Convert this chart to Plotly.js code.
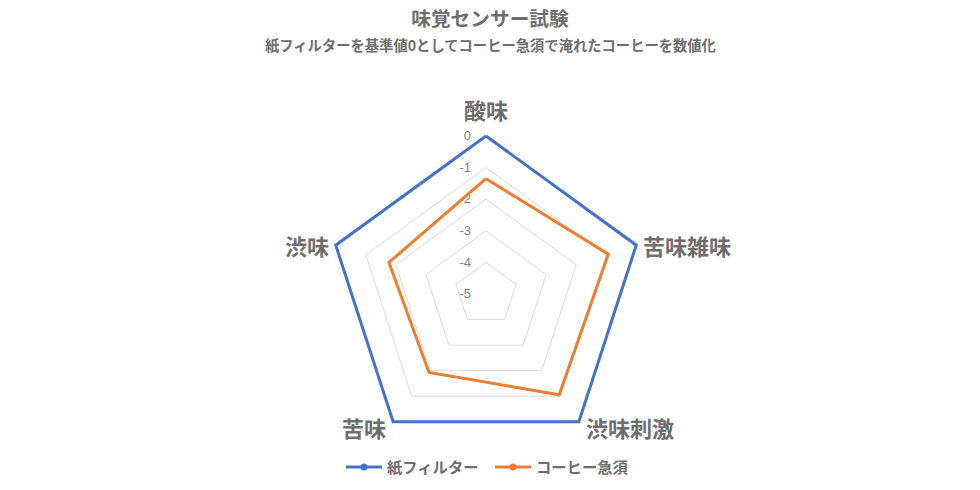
<!DOCTYPE html>
<html>
<head>
<meta charset="utf-8">
<script src="https://cdn.plot.ly/plotly-3.0.1.min.js"></script>
<style>
  html, body { margin: 0; padding: 0; background: #fff; }
  #chart { width: 980px; height: 490px; }
</style>
</head>
<body>
<div id="chart"></div>
<script>
// taste axes, clockwise from the top
var categories = ["酸味", "苦味雑味", "渋味刺激", "苦味", "渋味"];
var seriesNames = ["紙フィルター", "コーヒー急須"];
var paperFilter = [0, 0, 0, 0, 0];
var coffeeKyusu = [-1.35, -0.93, -1.06, -1.93, -1.77];
var radialTicks = [0, -1, -2, -3, -4, -5];

var jpFont = '"Noto Sans CJK JP", "Noto Sans", sans-serif';
var gray = "#6e6e6e";

var W = 980, H = 490;
// polar placement: centre and the pixel radius of r = 0
var cx = 486, cy = 294, R0 = 158;
var rMin = -5, rMax = 0.1;   // a bit of headroom so the outer line is not clipped
var Rfull = R0 * (rMax - rMin) / (0 - rMin);

// close the loop so the last point joins the first
function closed(arr) {
    return arr.concat([arr[0]]);
}

var data = [
    {
        type: "scatterpolar",
        name: seriesNames[0],
        r: closed(paperFilter),
        theta: closed(categories),
        mode: "lines+markers",
        line: { color: "#4472C4", width: 3 },
        marker: { color: "#4472C4", size: 7 },
        hoverinfo: "skip"
    },
    {
        type: "scatterpolar",
        name: seriesNames[1],
        r: closed(coffeeKyusu),
        theta: closed(categories),
        mode: "lines+markers",
        line: { color: "#ED7D31", width: 3 },
        marker: { color: "#ED7D31", size: 7 },
        hoverinfo: "skip"
    }
];

// category labels placed Excel-style beside each outer vertex
var labelNotes = categories.map(function (c, i) {
    var a = (90 - 360 / categories.length * i) * Math.PI / 180;
    var ca = Math.cos(a), sa = Math.sin(a);
    var note = {
        text: c,
        xref: "paper", yref: "paper",
        x: (cx + R0 * ca) / W,
        y: (H - cy + R0 * sa) / H,
        showarrow: false,
        font: { family: jpFont, size: 22, color: gray, weight: "bold" }
    };
    if (sa > 0.5) {
        note.xanchor = "center"; note.yanchor = "bottom"; note.yshift = 9;
    } else {
        note.xanchor = ca > 0 ? "left" : "right";
        note.yanchor = "middle";
        note.xshift = ca > 0 ? 5 : -5;
        note.yshift = sa < 0 ? -5 : 0;
    }
    return note;
});

var layout = {
    width: W,
    height: H,
    margin: { l: 0, r: 0, t: 0, b: 0 },
    paper_bgcolor: "#ffffff",
    font: { family: jpFont, color: gray },
    title: {
        text: "味覚センサー試験",
        font: { family: jpFont, size: 19.7, color: gray, weight: "bold" },
        x: 0.5,
        xanchor: "center",
        y: 0.962,
        yanchor: "middle"
    },
    annotations: [{
        text: "紙フィルターを基準値0としてコーヒー急須で淹れたコーヒーを数値化",
        xref: "paper", yref: "paper",
        x: 0.5, y: 0.91,
        xanchor: "center", yanchor: "middle",
        showarrow: false,
        font: { family: jpFont, size: 14.3, color: gray, weight: "bold" }
    }].concat(labelNotes),
    polar: {
        domain: {
            x: [(cx - Rfull) / W, (cx + Rfull) / W],
            y: [(H - cy - Rfull) / H, (H - cy + Rfull) / H]
        },
        gridshape: "linear",
        bgcolor: "rgba(0,0,0,0)",
        radialaxis: {
            range: [rMin, rMax],
            tickvals: radialTicks,
            ticktext: radialTicks.map(String),
            angle: 90,
            tickangle: 90,
            side: "counterclockwise",
            showline: false,
            ticks: "outside",
            ticklen: 10,
            tickcolor: "rgba(0,0,0,0)",
            layer: "below traces",
            gridcolor: "#dcdcdc",
            gridwidth: 1,
            tickfont: { family: "Liberation Sans, Arial, sans-serif", size: 13, color: "#808080" }
        },
        angularaxis: {
            direction: "clockwise",
            rotation: 90,
            showgrid: false,
            showline: false,
            showticklabels: false,
            ticks: ""
        }
    },
    showlegend: true,
    legend: {
        orientation: "h",
        x: 0.5,
        xanchor: "center",
        y: 0.047,
        yanchor: "middle",
        font: { family: jpFont, size: 15.3, color: gray, weight: "bold" },
        itemwidth: 36,
        entrywidth: 98,
        entrywidthmode: "pixels"
    }
};

Plotly.newPlot("chart", data, layout, { displayModeBar: false, staticPlot: true });
</script>
</body>
</html>
